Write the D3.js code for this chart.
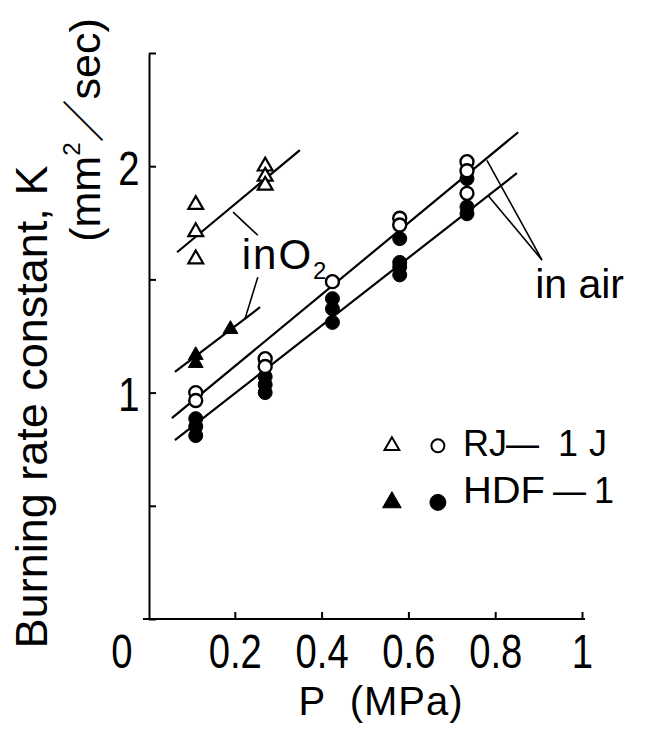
<!DOCTYPE html>
<html>
<head>
<meta charset="utf-8">
<script src="https://cdn.jsdelivr.net/npm/d3@7"></script>
<style>
  body { margin: 0; background: #fff; }
  svg { display: block; font-family: "Liberation Sans", Arial, sans-serif; }
</style>
</head>
<body>
<div id="chart"></div>
<script>
// values (P in MPa, K in mm^2/sec)
const rjAirP = [0.11, 0.11, 0.27, 0.27, 0.425, 0.58, 0.58, 0.735, 0.735, 0.735];
const rjAirK = [1.00, 0.965, 1.15, 1.115, 1.49, 1.77, 1.74, 2.02, 1.98, 1.88];

const hdfAirP = [0.11, 0.11, 0.11, 0.27, 0.27, 0.27, 0.425, 0.425, 0.425, 0.58, 0.58, 0.58, 0.58, 0.735, 0.735, 0.735];
const hdfAirK = [0.885, 0.85, 0.81, 1.07, 1.035, 1.00, 1.415, 1.37, 1.31, 1.68, 1.575, 1.555, 1.52, 1.945, 1.82, 1.79];

const rjO2P = [0.11, 0.11, 0.11, 0.27, 0.27, 0.27];
const rjO2K = [1.83, 1.71, 1.59, 2.00, 1.955, 1.915];

const hdfO2P = [0.11, 0.11, 0.19];
const hdfO2K = [1.165, 1.13, 1.28];

// fitted straight lines, as [P, K] end points
const fitLines = [
    [[0.055, 0.887], [0.853, 2.150]],   // RJ-1J in air
    [[0.062, 0.790], [0.850, 1.969]],   // HDF-1 in air
    [[0.067, 1.620], [0.350, 2.071]],   // RJ-1J in O2
    [[0.062, 1.091], [0.258, 1.377]]    // HDF-1 in O2
];

// leader lines from the labels
const leaders = [
    [[0.781, 2.026], [0.908, 1.585], [0.783, 1.872]],
    [[0.196, 1.797], [0.253, 1.695]],
    [[0.253, 1.510], [0.224, 1.329]]
];

const xTicks = [0.2, 0.4, 0.6, 0.8, 1];
const yTicks = [0, 0.5, 1, 1.5, 2, 2.5];
const yLabels = [1, 2];

const W = 645, H = 742;

const svg = d3.select("#chart")
    .append("svg")
    .attr("width", W)
    .attr("height", H);

const x = d3.scaleLinear().domain([0, 1]).range([148, 582]);
const y = d3.scaleLinear().domain([0, 2.5]).range([619, 53]);

// axes
const xAxis = svg.append("g")
    .attr("transform", `translate(0,${y(0)})`)
    .call(d3.axisBottom(x).tickValues(xTicks).tickSizeInner(-7).tickSizeOuter(0)
        .tickFormat(d => d3.format("")(d)));

xAxis.select(".domain").attr("stroke-width", 2).attr("d", `M${x(0) - 5},0H${x(1) + 3}`);
xAxis.selectAll(".tick line").attr("stroke-width", 2);
xAxis.selectAll(".tick text")
    .attr("y", 49)
    .attr("dy", 0)
    .attr("transform", "scale(0.78,1)")
    .style("font-size", "49px")
    .style("font-family", "Liberation Sans, Arial, sans-serif")
    .attr("fill", "#000");

const yAxis = svg.append("g")
    .attr("transform", `translate(${x(0) + 1},0)`)
    .call(d3.axisLeft(y).tickValues(yTicks).tickSizeInner(-7).tickSizeOuter(0)
        .tickFormat(d => yLabels.includes(d) ? d : ""));

yAxis.select(".domain").attr("stroke-width", 2);
yAxis.selectAll(".tick line").attr("stroke-width", 2);
yAxis.selectAll(".tick text")
    .attr("x", 0)
    .attr("dy", 0)
    .attr("y", 18)
    .attr("text-anchor", "middle")
    .attr("transform", "translate(-20,0) scale(0.78,1)")
    .style("font-size", "49px")
    .style("font-family", "Liberation Sans, Arial, sans-serif")
    .attr("fill", "#000");

// shared origin label
svg.append("text")
    .attr("transform", `translate(${x(0) - 26},${y(0) + 49}) scale(0.78,1)`)
    .attr("text-anchor", "middle")
    .style("font-size", "49px")
    .text("0");

// fitted lines
const line = d3.line()
    .x(d => x(d[0]))
    .y(d => y(d[1]));

fitLines.forEach(l => {
    svg.append("path")
        .attr("d", line(l))
        .attr("fill", "none")
        .attr("stroke", "#000")
        .attr("stroke-width", 2.2);
});

leaders.forEach(l => {
    svg.append("path")
        .attr("d", line(l))
        .attr("fill", "none")
        .attr("stroke", "#000")
        .attr("stroke-width", 1.6);
});

// markers
const tri = d3.symbol().type(d3.symbolTriangle).size(95);

function dots(ps, ks, filled) {
    svg.append("g").selectAll("circle")
        .data(ps.map((p, i) => [p, ks[i]]))
        .enter()
        .append("circle")
        .attr("cx", d => x(d[0]))
        .attr("cy", d => y(d[1]))
        .attr("r", filled ? 7 : 6.5)
        .attr("fill", filled ? "#000" : "#fff")
        .attr("stroke", "#000")
        .attr("stroke-width", filled ? 1 : 2.4);
}

function tris(ps, ks, filled) {
    svg.append("g").selectAll("path")
        .data(ps.map((p, i) => [p, ks[i]]))
        .enter()
        .append("path")
        .attr("d", tri)
        .attr("transform", d => `translate(${x(d[0])},${y(d[1])})`)
        .attr("fill", filled ? "#000" : "#fff")
        .attr("stroke", "#000")
        .attr("stroke-width", filled ? 1 : 2.2);
}

dots(hdfAirP, hdfAirK, true);
dots(rjAirP, rjAirK, false);
tris(rjO2P, rjO2K, false);
tris(hdfO2P, hdfO2K, true);

// annotations
svg.append("text")
    .attr("x", x(0.216))
    .attr("y", y(1.545))
    .style("font-size", "42px")
    .attr("letter-spacing", 2)
    .text("inO")
    .append("tspan")
    .attr("dy", 10)
    .style("font-size", "24px")
    .text("2");

svg.append("text")
    .attr("x", x(0.892))
    .attr("y", y(1.417))
    .style("font-size", "41px")
    .text("in air");

// legend: each label is split into pieces so the wide typeset spacing is kept
const legend = svg.append("g");
const legendRows = [
    { pieces: [["RJ", 463], ["\u2014", 506], ["1", 558], ["J", 589]], filled: false, k: 0.765, base: 10 },
    { pieces: [["HDF", 463], ["\u2014", 553], ["1", 594]], filled: true, k: 0.515, base: 1 }
];

legendRows.forEach(r => {
    legend.append("path")
        .attr("d", d3.symbol().type(d3.symbolTriangle).size(r.filled ? 150 : 95)())
        .attr("transform", `translate(${x(0.562)},${y(r.k)})`)
        .attr("fill", r.filled ? "#000" : "#fff")
        .attr("stroke", "#000")
        .attr("stroke-width", r.filled ? 1 : 2);
    legend.append("circle")
        .attr("cx", x(0.668))
        .attr("cy", y(r.k))
        .attr("r", r.filled ? 8 : 6.5)
        .attr("fill", r.filled ? "#000" : "#fff")
        .attr("stroke", "#000")
        .attr("stroke-width", r.filled ? 1 : 2);
    const t = legend.append("text")
        .attr("y", y(r.k) + r.base)
        .style("font-size", "36px");
    r.pieces.forEach(([s, px]) => {
        const ts = t.append("tspan").attr("x", px).text(s);
        if (s === "HDF") ts.attr("textLength", 82).attr("lengthAdjust", "spacingAndGlyphs");
        if (s === "\u2014") ts.attr("textLength", 33).attr("lengthAdjust", "spacingAndGlyphs");
    });
});

// axis titles
svg.append("text")
    .attr("x", 381)
    .attr("y", 715)
    .attr("text-anchor", "middle")
    .style("font-size", "40px")
    .attr("letter-spacing", 1)
    .text("P \u00a0(MPa)");

svg.append("text")
    .attr("transform", "translate(47,407) rotate(-90)")
    .attr("text-anchor", "middle")
    .style("font-size", "45px")
    .text("Burning rate constant, K");

const unit = svg.append("text")
    .attr("transform", "translate(100,130) rotate(-90)")
    .attr("text-anchor", "middle")
    .style("font-size", "43px");
unit.append("tspan").text("(mm");
unit.append("tspan").attr("dy", -20).style("font-size", "24px").text("2");
unit.append("tspan").attr("dy", 20).style("font-family", "Noto Sans CJK JP, sans-serif").text("\uff0f");
unit.append("tspan").text("sec)");
</script>
</body>
</html>
